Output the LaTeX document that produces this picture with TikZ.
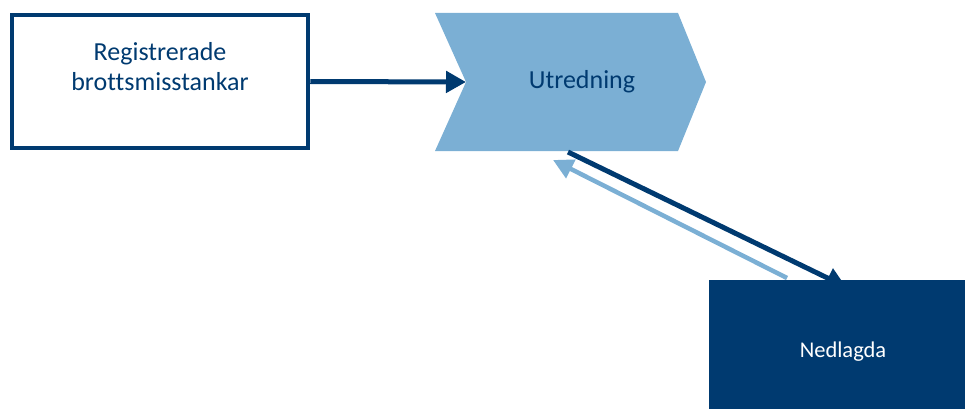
\documentclass[tikz,border=0pt]{standalone}
\usepackage{fontspec}
\setmainfont{Carlito}[Ligatures={NoCommon}]
\usetikzlibrary{arrows.meta}
\definecolor{dblue}{RGB}{0,58,112}
\definecolor{lblue}{RGB}{123,175,212}
\tikzset{
  lbl/.style={font=\fontsize{26}{30}\selectfont, text=dblue, align=center},
  darrow/.style={draw=dblue, line width=5pt, -{Triangle[length=20pt,width=21pt]}},
  larrow/.style={draw=lblue, line width=4.5pt, -{Triangle[length=20pt,width=20pt]}},
}
\begin{document}
\begin{tikzpicture}[x=1pt,y=-1pt]
\useasboundingbox (0,0) rectangle (965,409);
% chevron
\fill[lblue] (435,13) -- (678,13) -- (706,82) -- (678,151) -- (435,151) -- (466,82) -- cycle;
\coordinate (notch) at (466,82);
\coordinate (chbot) at (568,152);
\coordinate (chin) at (553,160);
\node[lbl] (utr) at (582,82) {Utredning};
% source box
\node[draw=dblue, line width=4.5pt, minimum width=296pt, minimum height=133pt, inner sep=0pt] (reg) at (160,81.5) {};
\node[lbl] (regt) at (160,67) {Registrerade\\brottsmisstankar};
% arrows
\draw[darrow] (reg.east) -- (notch);
\coordinate (ntip) at (846,287);
\coordinate (nout) at (787,278);
\draw[darrow] (chbot) -- (ntip);
\draw[larrow] (nout) -- (chin);
% target box
\node[fill=dblue, minimum width=256pt, minimum height=129pt, inner sep=0pt] (ned) at (837,344.5) {};
\node[font=\fontsize{22.5}{26}\selectfont, text=white] (nedt) at (843,352) {Nedlagda};
\end{tikzpicture}
\end{document}
